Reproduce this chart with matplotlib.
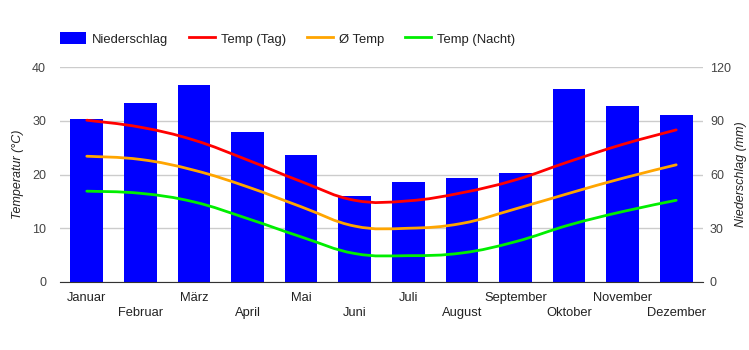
import numpy as np
import matplotlib
matplotlib.use("Agg")
import matplotlib.pyplot as plt
from matplotlib.path import Path
from matplotlib.patches import PathPatch
from matplotlib.lines import Line2D
from matplotlib.patches import Patch

plt.rcParams['font.family'] = ['Liberation Sans', 'DejaVu Sans']

months = ['Januar', 'Februar', 'März', 'April', 'Mai', 'Juni', 'Juli',
          'August', 'September', 'Oktober', 'November', 'Dezember']
niederschlag = [91, 100, 110, 84, 71, 48, 56, 58, 61, 108, 98, 93]
temp_tag = [30.1, 28.8, 26.4, 22.7, 18.7, 15.2, 15.1, 16.6, 19.0, 22.4, 25.6, 28.3]
temp_mittel = [23.4, 22.8, 20.8, 17.7, 14.0, 10.4, 10.0, 10.9, 13.6, 16.5, 19.3, 21.8]
temp_nacht = [16.9, 16.5, 14.9, 11.8, 8.4, 5.3, 4.9, 5.4, 7.5, 10.6, 13.1, 15.2]

tick_color = '#444444'


def smooth_path(x, y, k=0.2):
    # cubic bezier through the points (like a "function" curve)
    x = np.asarray(x, float)
    y = np.asarray(y, float)
    verts = [(x[0], y[0])]
    codes = [Path.MOVETO]
    n = len(x)
    for i in range(n - 1):
        x0, y0 = (x[i - 1], y[i - 1]) if i > 0 else (x[i], y[i])
        x3, y3 = (x[i + 2], y[i + 2]) if i + 2 < n else (x[i + 1], y[i + 1])
        c1 = (x[i] + (x[i + 1] - x0) * k, y[i] + (y[i + 1] - y0) * k)
        c2 = (x[i + 1] - (x3 - x[i]) * k, y[i + 1] - (y3 - y[i]) * k)
        verts += [c1, c2, (x[i + 1], y[i + 1])]
        codes += [Path.CURVE4] * 3
    return Path(verts, codes)


fig = plt.figure(figsize=(7.49, 3.5), dpi=100)
ax2 = fig.add_axes([60 / 749, 1 - 282 / 350, 643 / 749, 215 / 350])
ax = ax2.twinx()
ax.set_zorder(ax2.get_zorder() + 1)
ax.patch.set_visible(False)

xs = np.arange(len(months))

# bars on the right axis
ax2.bar(xs, niederschlag, width=0.61, color='#0000ff', zorder=2)
ax2.set_ylim(0, 120)
ax2.set_yticks([0, 30, 60, 90, 120])
ax2.grid(axis='y', color='#cccccc', linewidth=1)
ax2.set_axisbelow(True)
ax2.set_xlim(-0.5, len(months) - 0.5)

# move precipitation ticks to the right side
ax2.yaxis.tick_right()
ax2.yaxis.set_label_position('right')
ax.yaxis.tick_left()
ax.yaxis.set_label_position('left')

# temperature lines
lines = [(temp_tag, '#ff0000'), (temp_mittel, '#ffa500'), (temp_nacht, '#00ee00')]
for vals, col in lines:
    ax.add_patch(PathPatch(smooth_path(xs, vals), facecolor='none',
                           edgecolor=col, linewidth=2, capstyle='round'))
ax.set_ylim(0, 40)
ax.set_yticks([0, 10, 20, 30, 40])

for a in (ax, ax2):
    for s in a.spines.values():
        s.set_visible(False)
    a.tick_params(length=0, labelsize=9, colors=tick_color)
ax2.spines['bottom'].set_visible(True)
ax2.spines['bottom'].set_color('#333333')
ax2.spines['bottom'].set_zorder(5)

ax.tick_params(axis='y', pad=10)
ax2.tick_params(axis='y', pad=5)

ax2.set_xticks(xs)
ax2.set_xticklabels([m if i % 2 == 0 else '\n' + m for i, m in enumerate(months)],
                    fontsize=9.3, color='#222222', linespacing=1.35)
ax2.tick_params(axis='x', pad=7)

ax.set_ylabel('Temperatur (°C)', fontstyle='italic', fontsize=9, color='#222222', labelpad=6)
ax2.set_ylabel('Niederschlag (mm)', fontstyle='italic', fontsize=9, color='#222222', labelpad=3)

handles = [Patch(facecolor='#0000ff', edgecolor='none', label='Niederschlag'),
           Line2D([], [], color='#ff0000', lw=2, label='Temp (Tag)'),
           Line2D([], [], color='#ffa500', lw=2, label='Ø Temp'),
           Line2D([], [], color='#00ee00', lw=2, label='Temp (Nacht)')]
leg = fig.legend(handles=handles, loc='center left', bbox_to_anchor=(60 / 749, 1 - 39 / 350),
                 ncol=4, frameon=False, fontsize=9.4, handlelength=2.0, handleheight=1.0,
                 handletextpad=0.45, columnspacing=1.6, borderpad=0, borderaxespad=0)
for t in leg.get_texts():
    t.set_color('#222222')

fig.savefig('out.png', dpi=100)
